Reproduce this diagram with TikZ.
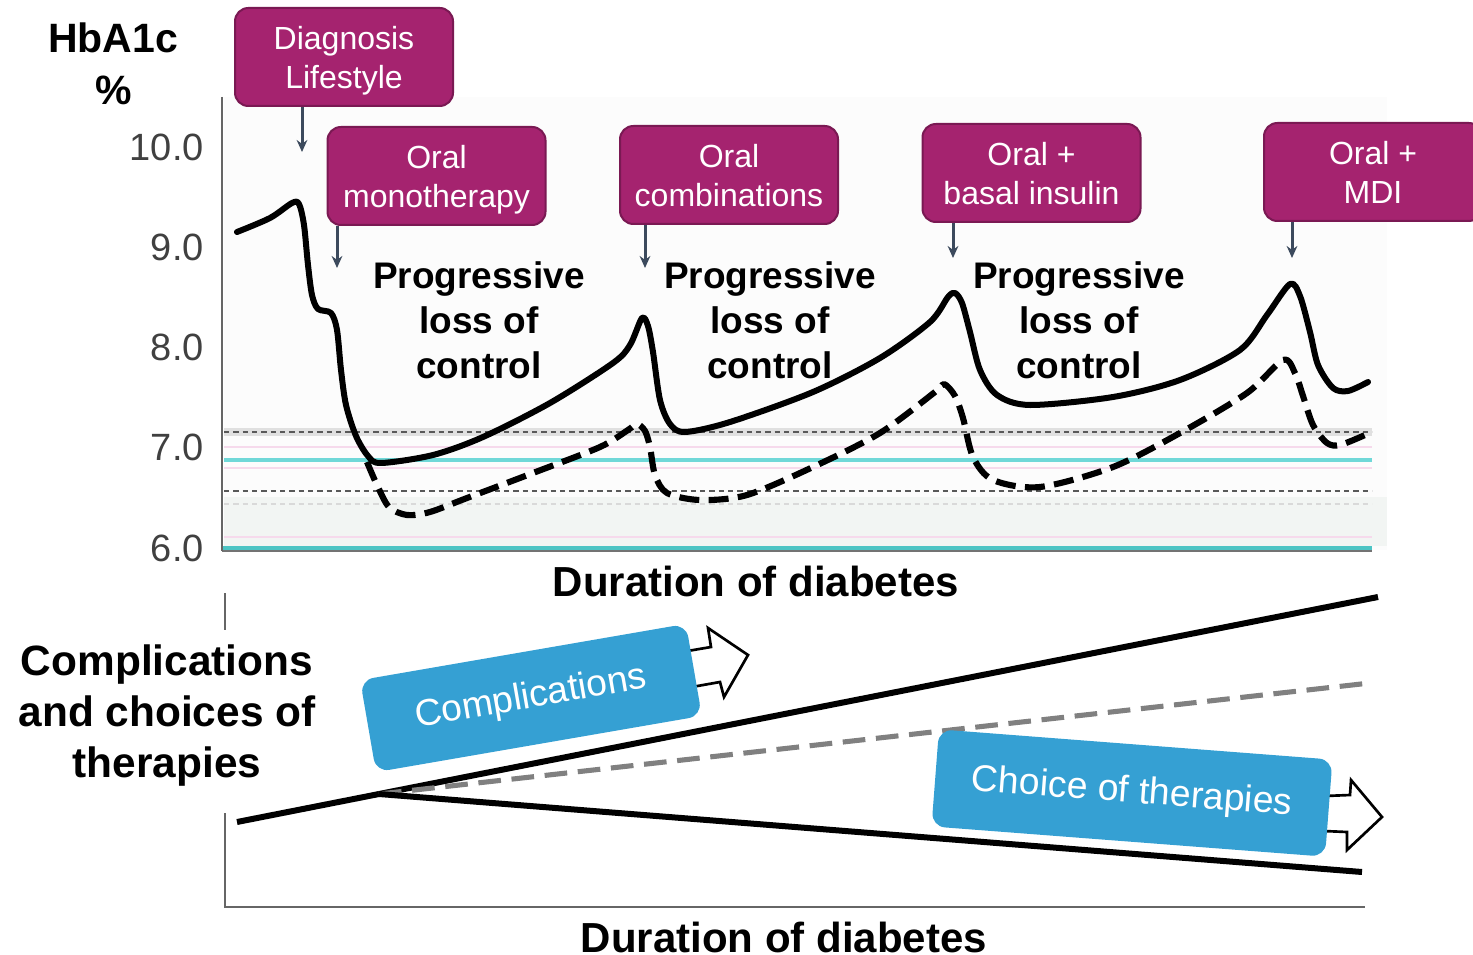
\documentclass[tikz,border=0pt]{standalone}
\usepackage{fontspec}
\setmainfont{Liberation Sans}
\usetikzlibrary{arrows.meta}
\definecolor{purp}{HTML}{A5236F}
\definecolor{purpdark}{HTML}{7A1953}
\definecolor{bluebox}{HTML}{35A0D3}
\definecolor{arrgray}{HTML}{3C4A5D}
\definecolor{tickgray}{HTML}{404040}
\definecolor{cyanline}{HTML}{70D8D8}
\definecolor{tealline}{HTML}{4CC4C4}
\definecolor{pinkline}{HTML}{F6DAEC}
\definecolor{bandfill}{HTML}{F2F5F3}
\newcommand\setfs[2]{\fontsize{#1}{#2}\selectfont}
\begin{document}
\begin{tikzpicture}[x=0.75pt,y=-0.75pt,
  pbox/.style={draw=purpdark, line width=1.5pt, fill=purp, rounded corners=10pt, text=white,
    minimum width=163.5pt, minimum height=73.5pt, align=center, inner sep=0pt, text depth=0pt,
    font=\setfs{24}{29.25}},
  bbox/.style={fill=bluebox, rounded corners=10pt, text=white, inner sep=0pt,
    font=\setfs{28}{33}},
  downarr/.style={draw=arrgray, line width=2.25pt, -{Stealth[length=9pt,width=8pt]}},
  ticklab/.style={text=tickgray, anchor=east, inner sep=0pt, font=\setfs{28.5}{34}},
  plc/.style={align=center, inner sep=0pt, font=\bfseries\setfs{27.75}{33.75}},
  bigtitle/.style={inner sep=0pt, font=\bfseries\setfs{31.5}{38}},
  curve/.style={line width=4.5pt, line join=round, line cap=round},
  dcurve/.style={line width=4.6pt, line join=round, dash pattern=on 15pt off 7pt},
  blockarr/.style={draw=black, line width=2pt, fill=white, line join=miter},
  axis/.style={draw=black!60, line width=1.5pt},
  grid dash/.style={draw=black!65, line width=1.5pt, dash pattern=on 4pt off 3pt}]
\useasboundingbox (0,0) rectangle (1473,955);
\fill[white] (0,0) rectangle (1473,955);

% ---- top chart background and reference lines
\fill[black!1] (224,97) rectangle (1387,550);
\fill[bandfill] (224,497) rectangle (1387,546);
\fill[black!12] (224,428) rectangle (1372,436);
\draw[grid dash] (224,432) -- (1372,432);
\draw[pinkline, line width=1.5pt] (224,447) -- (1372,447);
\draw[cyanline, line width=2.5pt] (224,460) -- (1372,460);
\draw[pinkline, line width=2pt] (224,468) -- (1372,468);
\draw[grid dash] (224,491) -- (1372,491);
\draw[black!15, line width=1pt, dash pattern=on 4pt off 3pt] (224,504) -- (1372,504);
\draw[pinkline, line width=2pt] (224,537) -- (1372,537);
\draw[black!55, line width=1pt] (222,551) -- (1372,551);
\draw[tealline, line width=2.5pt] (222,548) -- (1372,548);
\draw[axis] (222,97) -- (222,551);

% ---- tick labels
\node[ticklab] (t10) at (204,147) {10.0};
\node[ticklab] (t9) at (204,247) {9.0};
\node[ticklab] (t8) at (204,347) {8.0};
\node[ticklab] (t7) at (204,447) {7.0};
\node[ticklab] (t6) at (204,548) {6.0};

% ---- axis title
\node[inner sep=0pt, font=\bfseries\setfs{30.75}{38}] (hb) at (113,38) {HbA1c};
\node[inner sep=0pt, font=\bfseries\setfs{30.75}{38}] (pct) at (114,90) {\%};

% ---- solid HbA1c curve
\draw[curve] plot[smooth, tension=0.5] coordinates {
 (237,232) (270,218) (292,203) (299,204) (304,225) (308,265) (312,295) (318,309) (331,313)
 (337,330) (341,370) (346,405) (356,436) (368,456) (381,463) (433,455) (483,437) (550,403)
 (613,363) (630,345) (642,318) (648,326) (653,352) (660,400) (670,424) (685,432) (730,422)
 (813,392) (880,358) (930,322) (948,297) (955,293) (962,303) (970,332) (980,370) (997,395)
 (1030,405) (1113,397) (1180,380) (1240,350) (1267,315) (1290,284) (1300,296) (1310,332)
 (1318,365) (1333,388) (1348,391) (1368,382)};

% ---- dashed curve
\draw[dcurve] plot[smooth, tension=0.5] coordinates {
 (367,462) (377,485) (389,507) (407,515) (430,512) (467,498) (533,473) (600,447) (628,430)
 (637,424) (645,431) (650,447) (655,475) (667,493) (700,500) (747,495) (813,467) (880,433)
 (935,392) (944,384) (955,396) (963,418) (973,457) (993,480) (1040,487) (1113,467) (1180,433)
 (1247,393) (1283,360) (1295,373) (1303,396) (1313,425) (1327,443) (1340,445) (1365,435)};

% ---- purple boxes
\node[pbox] (diag) at (344,57) {Diagnosis\\Lifestyle};
\node[pbox] (mono) at (436.5,176) {Oral\\monotherapy};
\node[pbox] (comb) at (729,175) {Oral\\combinations};
\node[pbox] (basal) at (1031.5,173) {Oral +\\basal insulin};
\node[pbox] (mdi) at (1373,172) {Oral +\\MDI};

% ---- small arrows
\coordinate (a1) at (302,152);
\coordinate (a2) at (337,268);
\coordinate (a3) at (645,268);
\coordinate (a4) at (953,258);
\coordinate (a5) at (1292,258);
\draw[downarr] (diag.south -| a1) -- (a1);
\draw[downarr] (mono.south -| a2) -- (a2);
\draw[downarr] (comb.south -| a3) -- (a3);
\draw[downarr] (basal.south -| a4) -- (a4);
\draw[downarr] (mdi.south -| a5) -- (a5);

% ---- progressive loss labels
\node[plc] (p1) at (479,320) {Progressive\\loss of\\control};
\node[plc] (p2) at (770,320) {Progressive\\loss of\\control};
\node[plc] (p3) at (1079,320) {Progressive\\loss of\\control};

\node[bigtitle] (dur1) at (756,581) {Duration of diabetes};

% ---- bottom chart
\draw[axis] (225,593) -- (225,630);
\draw[axis] (225,813) -- (225,907) -- (1365,907);
\node[align=center, inner sep=0pt, text depth=0pt, font=\bfseries\setfs{31.8}{38.25}] (ylab2) at (167,711)
  {Complications\\and choices of\\therapies};

\coordinate (junc) at (379,794);
\draw[line width=4.5pt] (237,822) -- (1378,597);
\draw[black!50, line width=3.8pt, dash pattern=on 17pt off 8pt] (junc) -- (1370,683);
\draw[line width=4.5pt] (junc) -- (1362,872);

% block arrows
\draw[blockarr] (670,654) -- (711,647) -- (708,628) -- (748,655) -- (724,697) -- (720,682) -- (675,690) -- cycle;
\draw[blockarr] (1300,797) -- (1350,795) -- (1351,780) -- (1382,817) -- (1347,850) -- (1347,832) -- (1300,830) -- cycle;

\node[bbox, rotate=9.8, minimum width=248pt, minimum height=70pt] (compl) at (531,698) {Complications};
\node[bbox, rotate=-4.4, minimum width=296pt, minimum height=73pt] (choice) at (1132,793) {Choice of therapies};

\node[bigtitle] (dur2) at (784,937) {Duration of diabetes};
\end{tikzpicture}
\end{document}
